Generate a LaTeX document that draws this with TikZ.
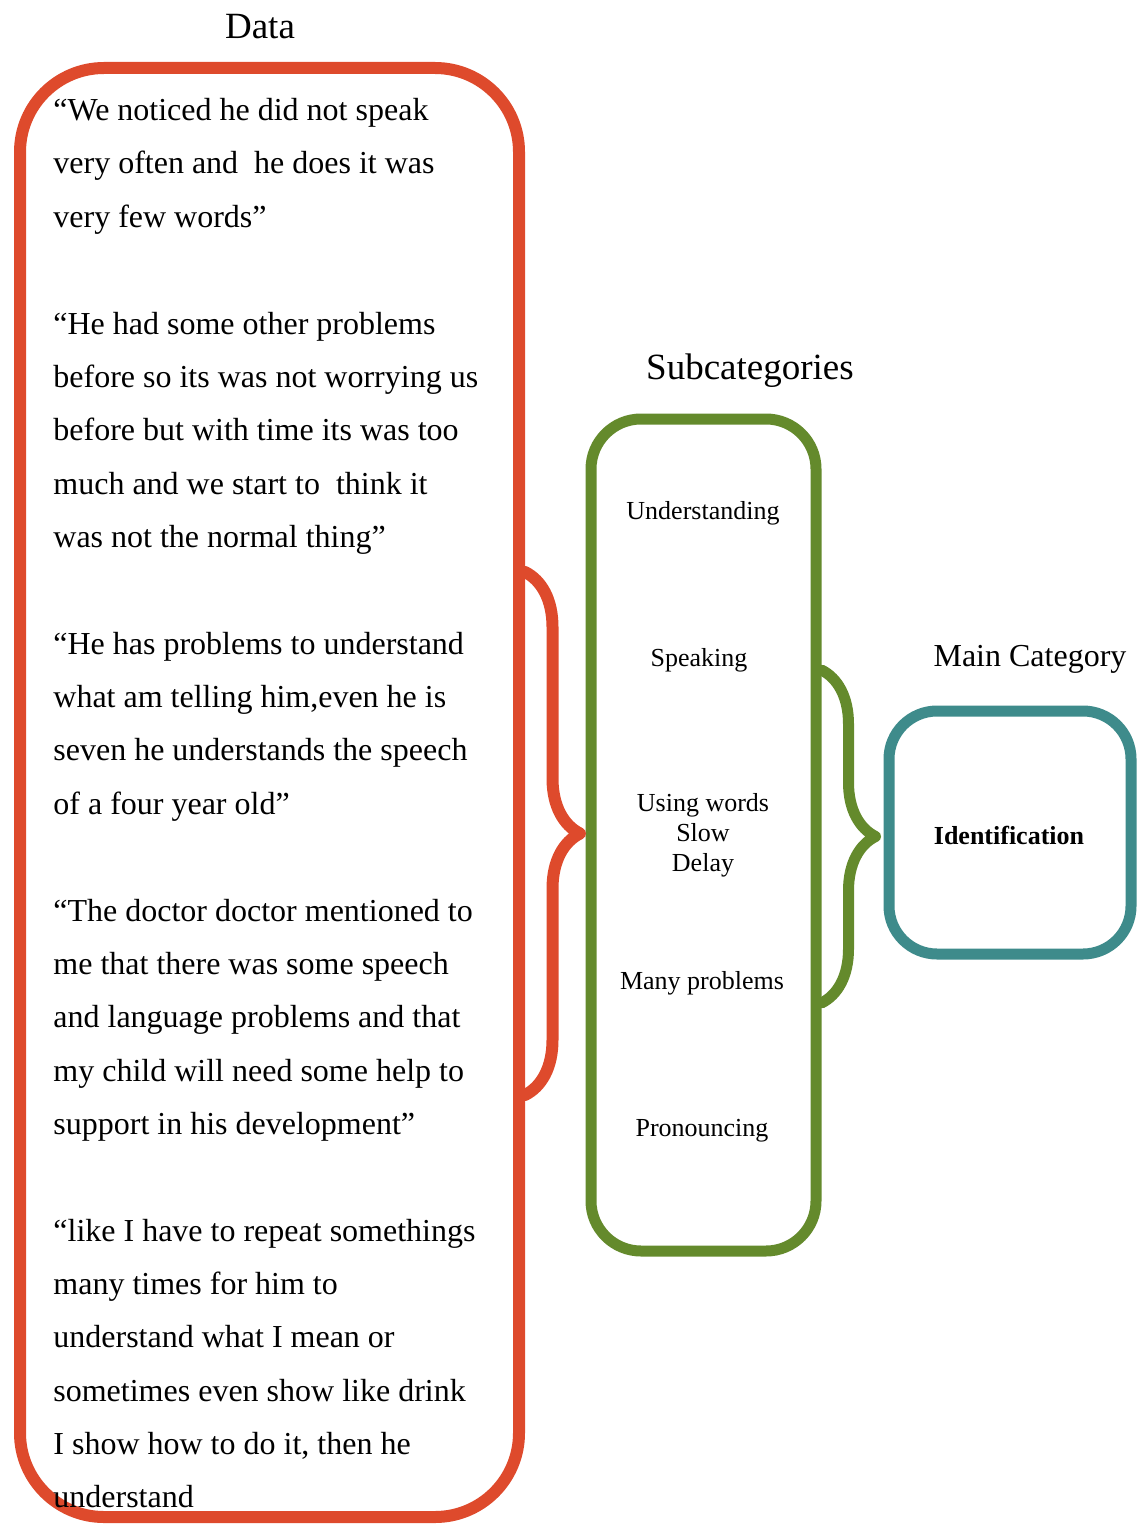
\documentclass[tikz,border=0pt]{standalone}
\usepackage{fontspec}
\setmainfont{Liberation Serif}
\usepackage{xcolor}
\usepackage{tikz}
\usetikzlibrary{positioning,calc,decorations.pathreplacing}

\definecolor{dataRed}{HTML}{DE4A2C}
\definecolor{subGreen}{HTML}{648A2C}
\definecolor{mainTeal}{HTML}{3E8B8B}

\begin{document}
\begin{tikzpicture}[x=0.5pt, y=-0.5pt,
    box/.style={draw, rectangle, inner sep=0pt},
    curly/.style={decorate, decoration={brace, amplitude=#1}, line width=5.5pt, line cap=round, line join=round},
    head/.style={font=\fontsize{18.5}{22}\selectfont},
    item/.style={font=\fontsize{13}{15}\selectfont, align=center}]
    \useasboundingbox (0,0) rectangle (1141,1524);

    % the three boxes
    \node [box, draw=dataRed, line width=6pt, rounded corners=42pt, minimum width=249.5pt, minimum height=724.5pt] (data) at (269.5,792.5) {};
    \node [box, draw=subGreen, line width=5.5pt, rounded corners=25pt, minimum width=112.5pt, minimum height=416pt] (sub) at (703.5,835) {};
    \node [box, draw=mainTeal, line width=5.5pt, rounded corners=24pt, minimum width=121pt, minimum height=121.5pt] (main) at (1010,832.5) {};

    % headings
    \node [head] (dataHead) at (260,27) {Data};
    \node [head] (subHead) at (750,371) {Subcategories};
    \node [font=\fontsize{16}{19}\selectfont] (mainHead) at (1030,659) {Main Category};

    % quotes
    \node [anchor=north west, inner sep=0pt, align=left, font=\fontsize{16}{26.68}\selectfont] (quotes) at (53,98) {%
        “We noticed he did not speak\\
        very often and~ he does it was\\
        very few words”\\[26.68pt]
        “He had some other problems\\
        before so its was not worrying us\\
        before but with time its was too\\
        much and we start to~ think it\\
        was not the normal thing”\\[26.68pt]
        “He has problems to understand\\
        what am telling him,even he is\\
        seven he understands the speech\\
        of a four year old”\\[26.68pt]
        “The doctor doctor mentioned to\\
        me that there was some speech\\
        and language problems and that\\
        my child will need some help to\\
        support in his development”\\[26.68pt]
        “like I have to repeat somethings\\
        many times for him to\\
        understand what I mean or\\
        sometimes even show like drink\\
        I show how to do it, then he\\
        understand};

    % subcategories
    \node [item] (under) at (703,513) {Understanding};
    \node [item] (speak) at (699,660) {Speaking};
    \node [item] (words) at (703,835) {Using words\\Slow\\Delay};
    \node [item] (many) at (702,983) {Many problems};
    \node [item] (pron) at (702,1131) {Pronouncing};

    % main category
    \node [font=\bfseries\fontsize{13}{15}\selectfont] (ident) at (1009,835) {Identification};

    % braces
    \coordinate (dTop) at (data.east |- 0,572);
    \coordinate (dBot) at (data.east |- 0,1095);
    \coordinate (sTop) at (sub.east |- 0,670);
    \coordinate (sBot) at (sub.east |- 0,1003);
    \draw [curly=27.5pt, draw=dataRed, line width=6pt] (dTop) -- (dBot);
    \draw [curly=27pt, draw=subGreen] (sTop) -- (sBot);
\end{tikzpicture}
\end{document}
